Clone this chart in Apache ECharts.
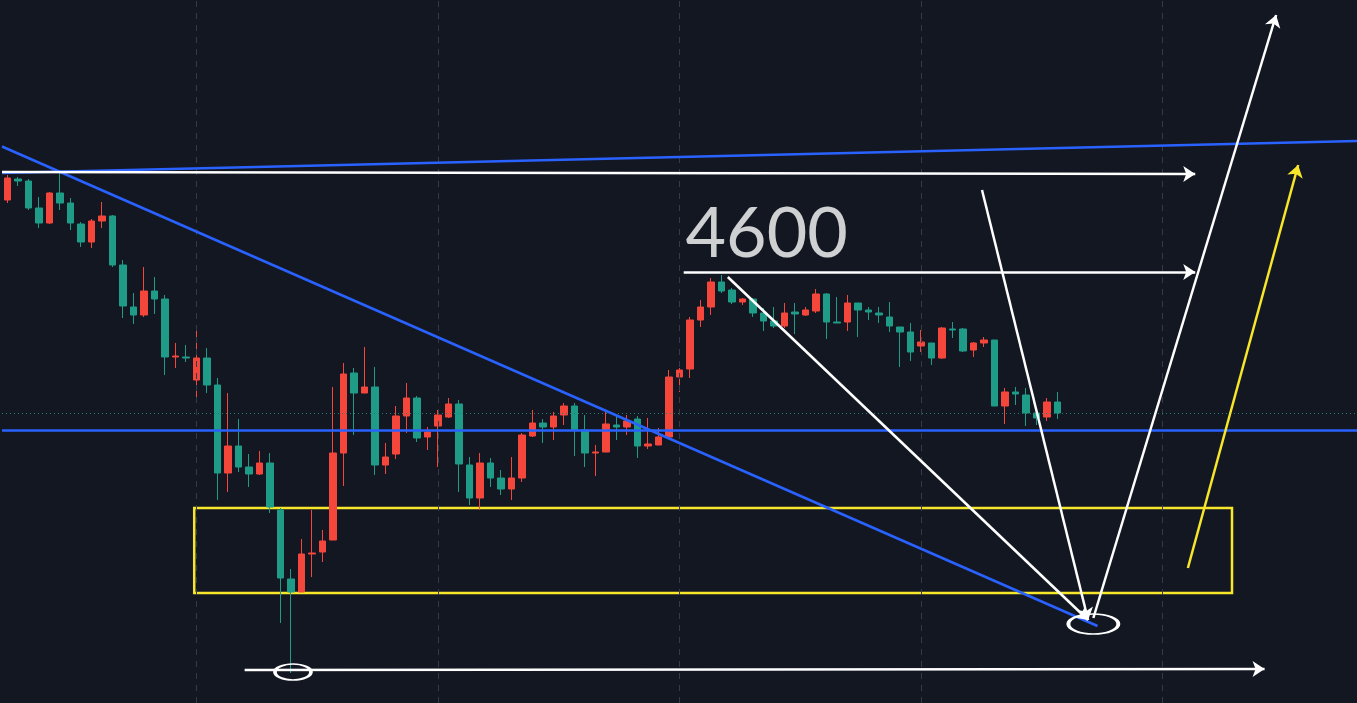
<!DOCTYPE html>
<html><head><meta charset="utf-8">
<script src="https://cdn.jsdelivr.net/npm/echarts@6/dist/echarts.min.js"></script>
<style>html,body{margin:0;padding:0;background:#131722;overflow:hidden}#c{width:1357px;height:703px;}</style>
</head><body><div id="c"></div>
<script>
// ---- data (price units) ----
const categories = Array.from({length: 129}, (_, i) => 'D' + (i + 1));
const open = [4744,4786,4782,4728,4698,4758,4738,4696,4660,4702,
4712,4614,4530,4514,4562,4546,4430,4430,4384,4428,
4374,4198,4252,4210,4196,4218,4124,3986,3960,4036,
4040,4064,4238,4398,4358,4370,4214,4236,4312,4348,
4270,4292,4310,4336,4214,4148,4218,4188,4166,4188,
4272,4298,4290,4314,4332,4284,4238,4240,4294,4290,
4306,4252,4254,4270,4390,4406,4504,4530,4580,4564,
4540,4546,4518,4502,4492,4520,4514,4522,4556,4500,
4500,4538,4524,4518,4510,4490,4480,4452,4458,4428,
4486,4486,4444,4458,4464,4332,4360,4354,4318,4310,
4340];
const close = [4788,4782,4728,4698,4758,4738,4698,4660,4702,4712,
4614,4532,4514,4562,4546,4430,4432,4428,4428,4374,
4198,4252,4210,4196,4218,4130,3988,3960,4036,4038,
4062,4238,4396,4358,4370,4214,4230,4312,4348,4268,
4280,4314,4336,4216,4148,4218,4188,4166,4188,4274,
4298,4290,4312,4332,4284,4238,4240,4296,4290,4302,
4252,4256,4270,4390,4404,4504,4530,4580,4562,4540,
4546,4518,4502,4492,4518,4516,4524,4556,4500,4498,
4538,4524,4520,4514,4492,4480,4440,4460,4428,4488,
4484,4442,4458,4464,4332,4360,4356,4318,4308,4340,
4318];
const low = [4738,4772,4724,4688,4696,4724,4684,4650,4648,4688,
4610,4508,4496,4510,4516,4394,4408,4420,4348,4358,
4144,4160,4200,4170,4194,4118,3898,3798,3960,3990,
4020,4064,4172,4274,4358,4194,4196,4226,4278,4260,
4244,4210,4308,4160,4134,4124,4170,4154,4144,4180,
4270,4258,4264,4294,4232,4210,4192,4240,4264,4274,
4228,4246,4254,4270,4360,4388,4490,4514,4558,4536,
4534,4510,4482,4488,4488,4476,4512,4518,4466,4498,
4482,4470,4504,4498,4480,4410,4422,4440,4414,4426,
4468,4440,4430,4450,4332,4296,4334,4292,4294,4302,
4306];
const high = [4794,4790,4786,4750,4760,4798,4748,4700,4706,4740,
4714,4624,4558,4610,4590,4554,4458,4454,4488,4448,
4388,4358,4306,4236,4242,4238,4128,4006,4066,4124,
4084,4370,4418,4408,4450,4410,4258,4332,4378,4352,
4290,4324,4348,4344,4230,4238,4228,4204,4230,4278,
4324,4306,4320,4338,4338,4314,4254,4320,4314,4314,
4312,4308,4288,4404,4408,4510,4544,4588,4594,4568,
4548,4548,4528,4530,4538,4538,4530,4566,4558,4550,
4554,4538,4530,4530,4540,4490,4498,4484,4458,4490,
4500,4488,4460,4470,4464,4368,4370,4368,4320,4348,
4360];
const gridIndexes = [18, 41, 64, 87, 110];
const lastPrice = 4318;
const supportLevel = 4284;
const zoneTop = 4128, zoneBottom = 3958, zoneStart = 17.8, zoneEnd = 116.6;
const levelText = '4600';
const levelTextAt = [72.3, 4676];
const blueLines = [[[-0.5, 4851], [103.8, 3892]], [[-0.5, 4798], [128.5, 4862]]];
const whiteArrows = [
  [[-0.5, 4800], [113.1, 4796]],
  [[64.4, 4600], [113.1, 4600]],
  [[22.6, 3804], [119.7, 3806]],
  [[68.6, 4590], [102.9, 3904]],
  [[92.8, 4764], [102.9, 3904]],
  [[103.4, 3908], [120.8, 5114]]
];
const yellowArrow = [[112.4, 4008], [122.9, 4814]];
const circlePoints = [[27.2, 3800], [103.4, 3896]];
const Y_MIN = 3738, Y_MAX = 5144;

// ---- chart ----
const candleData = open.map((o, i) => [o, close[i], low[i], high[i]]);
const WHITE = '#ffffff', BLUE = '#2962ff', YELLOW = '#f7e62a';
const chart = echarts.init(document.getElementById('c'), null, {renderer: 'canvas'});
const pair = (seg) => [{coord: seg[0]}, {coord: seg[1]}];
chart.setOption({
  backgroundColor: '#131722',
  animation: false,
  grid: {left: 2, right: 0, top: 0, bottom: 0},
  xAxis: [
    {type: 'category', data: categories, boundaryGap: true, show: false},
    {type: 'value', min: -0.5, max: categories.length - 0.5, show: false}
  ],
  yAxis: [{type: 'value', min: Y_MIN, max: Y_MAX, show: false, splitLine: {show: false}}],
  series: [
    {
      type: 'line', xAxisIndex: 1, data: [], z: 1, silent: true,
      markLine: {
        silent: true, symbol: 'none', label: {show: false},
        lineStyle: {color: '#363a46', width: 1, type: [6, 6]},
        data: gridIndexes.map(i => ({xAxis: i}))
      }
    },
    {
      type: 'line', xAxisIndex: 1, data: [], z: 1, silent: true,
      markLine: {
        silent: true, symbol: 'none', label: {show: false},
        lineStyle: {color: '#1f7f74', width: 1, type: [1, 3]},
        data: [{yAxis: lastPrice}]
      }
    },
    {
      type: 'candlestick', xAxisIndex: 0, z: 2, barWidth: 7,
      data: candleData,
      itemStyle: {color: '#f5463c', color0: '#1e9c88', borderColor: '#f5463c', borderColor0: '#1e9c88', borderWidth: 1}
    },
    {
      type: 'line', xAxisIndex: 1, data: [], z: 3, silent: true,
      markArea: {
        silent: true, label: {show: false},
        itemStyle: {color: 'rgba(0,0,0,0)', borderColor: YELLOW, borderWidth: 2.5},
        data: [[{coord: [zoneStart, zoneTop]}, {coord: [zoneEnd, zoneBottom]}]]
      },
      markLine: {
        silent: true, symbol: 'none', label: {show: false},
        lineStyle: {color: BLUE, width: 2.5, type: 'solid'},
        data: blueLines.map(pair).concat([[{coord: [-0.5, supportLevel]}, {coord: [categories.length - 0.5, supportLevel]}]])
      }
    },
    {
      type: 'line', xAxisIndex: 1, data: [], z: 4, silent: true,
      markLine: {
        silent: true, symbol: ['none', 'arrow'], symbolSize: 12, label: {show: false},
        lineStyle: {color: WHITE, width: 2.5, type: 'solid'},
        itemStyle: {color: WHITE},
        data: whiteArrows.map(pair)
      }
    },
    {
      type: 'line', xAxisIndex: 1, data: [], z: 4, silent: true,
      markLine: {
        silent: true, symbol: ['none', 'arrow'], symbolSize: 12, label: {show: false},
        lineStyle: {color: YELLOW, width: 2.5, type: 'solid'},
        itemStyle: {color: YELLOW},
        data: [pair(yellowArrow)]
      }
    },
    {
      type: 'scatter', xAxisIndex: 1, z: 5, silent: true,
      symbol: 'circle',
      data: [
        {value: circlePoints[0], symbolSize: [36, 16]},
        {value: circlePoints[1], symbolSize: [50, 20]}
      ],
      itemStyle: {color: 'rgba(0,0,0,0)', borderColor: WHITE, borderWidth: 2.5, opacity: 1}
    },
    {
      type: 'scatter', xAxisIndex: 1, z: 5, silent: true,
      symbolSize: 1, itemStyle: {color: 'rgba(0,0,0,0)'},
      data: [levelTextAt],
      label: {
        show: true, position: 'inside', formatter: levelText,
        color: WHITE, fontFamily: 'Lato', fontWeight: 400, fontSize: 70
      }
    }
  ]
});
</script></body></html>
